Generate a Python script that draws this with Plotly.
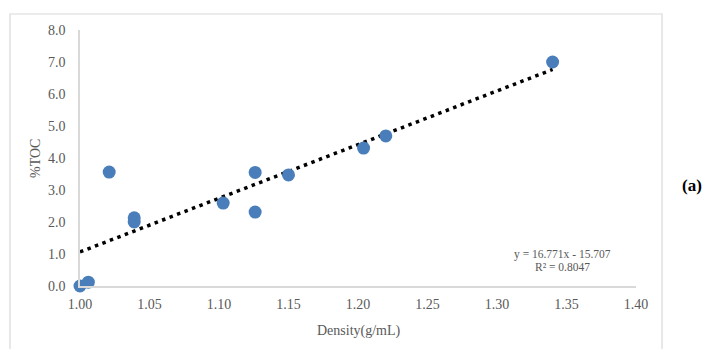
import plotly.graph_objects as go

density = [1.000, 1.006, 1.021, 1.039, 1.039, 1.103, 1.126, 1.126, 1.150, 1.204, 1.220, 1.340]
toc = [0.00, 0.12, 3.56, 2.13, 2.00, 2.59, 2.31, 3.55, 3.47, 4.31, 4.69, 7.00]

slope = 16.771
intercept = -15.707
trend_x = [1.00, 1.34]
trend_y = [slope * x + intercept for x in trend_x]

x_ticks = [1.00, 1.05, 1.10, 1.15, 1.20, 1.25, 1.30, 1.35, 1.40]
y_ticks = [0, 1, 2, 3, 4, 5, 6, 7, 8]

FONT = "Liberation Serif"
GRAY = "#595959"
LINE = "#d9d9d9"

fig = go.Figure()
fig.add_trace(go.Scatter(x=trend_x, y=trend_y, mode="lines",
                         line=dict(color="black", width=3.5, dash="3.5px,4.5px"),
                         hoverinfo="skip", showlegend=False, cliponaxis=False))
fig.add_trace(go.Scatter(x=density, y=toc, mode="markers",
                         marker=dict(color="#4a7ebb", size=13),
                         showlegend=False, cliponaxis=False))

fig.update_layout(
    width=709, height=341,
    margin=dict(l=72, r=81, t=22, b=63),
    paper_bgcolor="white", plot_bgcolor="white",
    font=dict(family=FONT, size=14, color=GRAY),
    xaxis=dict(range=[1.0, 1.4], tickvals=x_ticks, tickformat=".2f",
               showgrid=False, zeroline=False, showline=True, linecolor=LINE,
               linewidth=1.5, ticks="", ticklabelstandoff=4,
               tickfont=dict(size=14, color=GRAY)),
    yaxis=dict(range=[0, 8], tickvals=y_ticks, tickformat=".1f",
               showgrid=False, zeroline=False, showline=True, linecolor=LINE,
               linewidth=1.5, ticks="", ticklabelstandoff=10,
               tickfont=dict(size=14, color=GRAY)),
    shapes=[
        dict(type="rect", xref="paper", yref="paper",
             x0=-0.1259, x1=1.0468, y0=-0.4, y1=1.0625,
             line=dict(color=LINE, width=1.2), layer="below"),
    ],
    annotations=[
        dict(text="%TOC", xref="paper", yref="paper", x=-0.081, y=0.5,
             xanchor="center", yanchor="middle",
             textangle=-90, showarrow=False, font=dict(size=14, color=GRAY)),
        dict(text="Density(g/mL)", xref="paper", yref="paper", x=0.502, y=-0.176,
             xanchor="center", yanchor="middle",
             showarrow=False, font=dict(size=14, color=GRAY)),
        dict(text="y = 16.771x - 15.707", xref="x", yref="y", x=1.3468, y=0.97,
             xanchor="center", yanchor="middle",
             showarrow=False, font=dict(size=11.5, color=GRAY)),
        dict(text="R² = 0.8047", xref="x", yref="y", x=1.3468, y=0.6,
             xanchor="center", yanchor="middle",
             showarrow=False, font=dict(size=11.5, color=GRAY)),
        dict(text="<b>(a)</b>", xref="paper", yref="paper", x=1.1007, y=0.3945,
             xanchor="center", yanchor="middle",
             showarrow=False, font=dict(size=17, color="black")),
    ],
)

fig.write_html("out.html")
